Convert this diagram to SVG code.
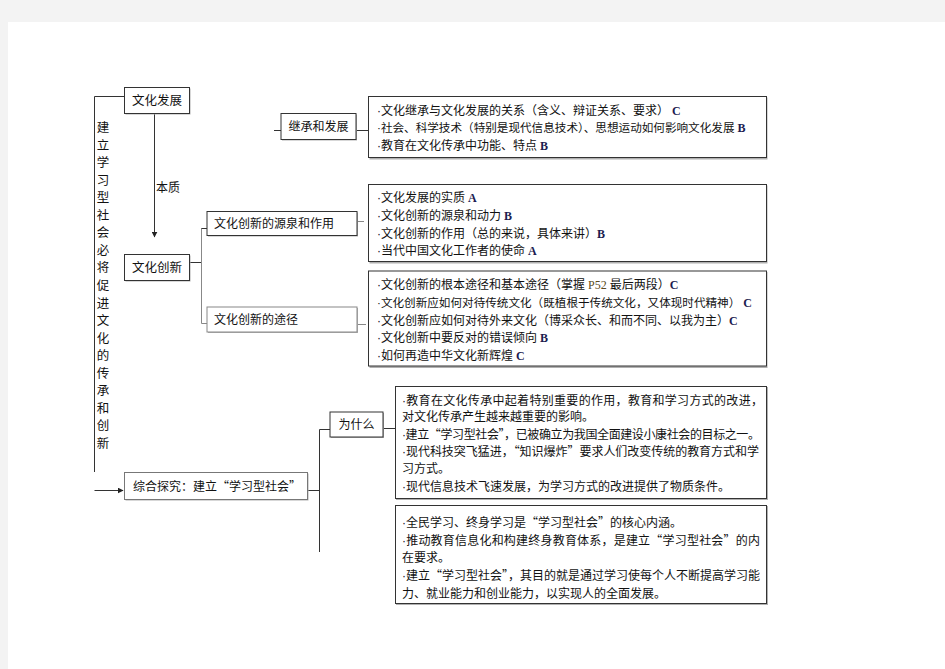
<svg xmlns="http://www.w3.org/2000/svg" width="945" height="669" viewBox="0 0 945 669">
<defs>
<style>
.t{font-family:"Noto Sans CJK SC","Noto Sans",sans-serif;font-size:12px;fill:#111}
.s{font-size:11.6px}
.n{font-family:"Noto Sans CJK SC","Noto Sans",sans-serif;font-size:12.5px;fill:#111}
.d{font-family:"Liberation Sans",sans-serif}
.g{font-family:"Liberation Serif",serif;font-weight:bold;font-size:12px;fill:#1c1c50}
.p{font-family:"Liberation Serif",serif;font-size:12px;fill:#5a4a20}
.box{fill:#fff;stroke:#333;stroke-width:1}
.sh{fill:#b0b0b0}
.ln{stroke:#333;stroke-width:1;fill:none}
.lg{stroke:#888;stroke-width:1;fill:none}
</style>
<marker id="ah" viewBox="0 0 10 10" refX="9" refY="5" markerWidth="6" markerHeight="6" orient="auto"><path d="M0,0 L10,5 L0,10 z" fill="#222"/></marker>
</defs>
<rect x="0" y="0" width="945" height="669" fill="#f3f3f3"/>
<rect x="8" y="22" width="937" height="647" fill="#fff"/>

<g id="connectors">
<polyline class="ln" points="124,96.5 94.5,96.5 94.5,472"/>
<line class="ln" x1="94.5" y1="490.5" x2="123" y2="490.5" marker-end="url(#ah)"/>
<line class="ln" x1="154.5" y1="114" x2="154.5" y2="237" marker-end="url(#ah)"/>
<line class="ln" x1="274" y1="130.5" x2="281" y2="130.5"/>
<line class="ln" x1="356" y1="130.5" x2="368" y2="130.5"/>
<line class="ln" x1="189" y1="262.5" x2="201.5" y2="262.5"/>
<polyline class="lg" points="207,228.5 201.5,228.5 201.5,323.5 207,323.5"/>
<line class="ln" x1="201.5" y1="228.5" x2="207" y2="228.5"/>
<line class="lg" x1="357" y1="221.5" x2="364" y2="221.5"/>
<line class="lg" x1="357" y1="324.5" x2="366" y2="324.5"/>
<line class="ln" x1="307" y1="490.5" x2="319.5" y2="490.5"/>
<line class="ln" x1="319.5" y1="429.5" x2="319.5" y2="552"/>
<line class="ln" x1="319.5" y1="429.5" x2="330" y2="429.5"/>
<line class="ln" x1="383" y1="428.5" x2="395" y2="428.5"/>
</g>

<g id="side-text">
<text class="n" x="103" text-anchor="middle">
<tspan x="103" y="132">建</tspan><tspan x="103" y="149.5">立</tspan><tspan x="103" y="167">学</tspan><tspan x="103" y="184.6">习</tspan><tspan x="103" y="202.2">型</tspan><tspan x="103" y="219.7">社</tspan><tspan x="103" y="237.3">会</tspan><tspan x="103" y="254.8">必</tspan><tspan x="103" y="272.4">将</tspan><tspan x="103" y="290">促</tspan><tspan x="103" y="307.5">进</tspan><tspan x="103" y="325">文</tspan><tspan x="103" y="342.6">化</tspan><tspan x="103" y="360.2">的</tspan><tspan x="103" y="377.7">传</tspan><tspan x="103" y="395.3">承</tspan><tspan x="103" y="412.8">和</tspan><tspan x="103" y="430.4">创</tspan><tspan x="103" y="448">新</tspan>
</text>
<text class="t" x="156" y="192">本质</text>
</g>

<g id="n-wenhuafazhan">
<rect class="sh" x="125.5" y="88.5" width="65" height="26"/>
<rect class="box" x="124.5" y="87.5" width="65" height="26"/>
<text class="n" x="157" y="105" text-anchor="middle">文化发展</text>
</g>

<g id="n-wenhuachuangxin">
<rect class="sh" x="125.5" y="255.5" width="65" height="26"/>
<rect class="box" x="124.5" y="254.5" width="65" height="26"/>
<text class="n" x="157" y="272" text-anchor="middle">文化创新</text>
</g>

<g id="n-jicheng">
<rect class="sh" x="282" y="114.5" width="75" height="26"/>
<rect class="box" x="281" y="113.5" width="75" height="26"/>
<text class="t" x="318.5" y="131" text-anchor="middle">继承和发展</text>
</g>

<g id="n-yuanquan">
<rect class="sh" x="208" y="212.5" width="150" height="24"/>
<rect class="box" x="207" y="211.5" width="150" height="24"/>
<text class="t" x="214" y="228">文化创新的源泉和作用</text>
</g>

<g id="n-tujing">
<rect class="sh" x="208" y="308" width="150" height="25"/>
<rect class="box" x="207" y="307" width="150" height="25" style="stroke:#888"/>
<text class="t" x="214" y="324">文化创新的途径</text>
</g>

<g id="n-zonghe">
<rect class="sh" x="125.5" y="473.5" width="183" height="27"/>
<rect class="box" x="124.5" y="472.5" width="183" height="27" style="stroke:#777"/>
<text class="t" x="133" y="491">综合探究：建立“学习型社会”</text>
</g>

<g id="n-weishenme">
<rect class="sh" x="331" y="413" width="53" height="25"/>
<rect class="box" x="330" y="412" width="53" height="25"/>
<text class="t" x="356.5" y="429" text-anchor="middle">为什么</text>
</g>

<g id="d-jicheng">
<rect class="sh" x="369.5" y="97.5" width="398" height="62"/>
<rect class="box" x="368.5" y="96.5" width="398" height="61"/>
<text class="t" x="377" y="114.5"><tspan class="d">·</tspan>文化继承与文化发展的关系（含义、辩证关系、要求）<tspan class="g"> C</tspan></text>
<text class="t s" x="377" y="131.5"><tspan class="d">·</tspan>社会、科学技术（特别是现代信息技术）、思想运动如何影响文化发展<tspan class="g"> B</tspan></text>
<text class="t" x="377" y="149.5"><tspan class="d">·</tspan>教育在文化传承中功能、特点<tspan class="g"> B</tspan></text>
</g>

<g id="d-yuanquan">
<rect class="sh" x="369.5" y="185.5" width="398" height="78"/>
<rect class="box" x="368.5" y="184.5" width="398" height="77"/>
<text class="t" x="377" y="201.5"><tspan class="d">·</tspan>文化发展的实质<tspan class="g"> A</tspan></text>
<text class="t" x="377" y="219.5"><tspan class="d">·</tspan>文化创新的源泉和动力<tspan class="g"> B</tspan></text>
<text class="t" x="377" y="237.5"><tspan class="d">·</tspan>文化创新的作用（总的来说，具体来讲）<tspan class="g">B</tspan></text>
<text class="t" x="377" y="254.5"><tspan class="d">·</tspan>当代中国文化工作者的使命<tspan class="g"> A</tspan></text>
</g>

<g id="d-tujing">
<rect class="sh" x="369.5" y="272" width="398" height="96"/>
<rect class="box" x="368.5" y="271" width="398" height="95"/>
<text class="t" x="377" y="288.5"><tspan class="d">·</tspan>文化创新的根本途径和基本途径（掌握<tspan class="p"> P52 </tspan>最后两段）<tspan class="g">C</tspan></text>
<text class="t s" x="377" y="306.5"><tspan class="d">·</tspan>文化创新应如何对待传统文化（既植根于传统文化，又体现时代精神）<tspan class="g"> C</tspan></text>
<text class="t" x="377" y="324.5"><tspan class="d">·</tspan>文化创新应如何对待外来文化（博采众长、和而不同、以我为主）<tspan class="g">C</tspan></text>
<text class="t" x="377" y="341.5"><tspan class="d">·</tspan>文化创新中要反对的错误倾向<tspan class="g"> B</tspan></text>
<text class="t" x="377" y="359.5"><tspan class="d">·</tspan>如何再造中华文化新辉煌<tspan class="g"> C</tspan></text>
</g>

<g id="d-weishenme">
<rect class="sh" x="396" y="387" width="372" height="113"/>
<rect class="box" x="395.5" y="386.5" width="371" height="112"/>
<text class="t" x="402" y="404.5" textLength="361" lengthAdjust="spacing"><tspan class="d">·</tspan>教育在文化传承中起着特别重要的作用，教育和学习方式的改进，</text>
<text class="t" x="402" y="421">对文化传承产生越来越重要的影响。</text>
<text class="t" x="402" y="438.5" textLength="358" lengthAdjust="spacing"><tspan class="d">·</tspan>建立“学习型社会”，已被确立为我国全面建设小康社会的目标之一。</text>
<text class="t" x="402" y="455.5" textLength="357" lengthAdjust="spacing"><tspan class="d">·</tspan>现代科技突飞猛进，“知识爆炸”要求人们改变传统的教育方式和学</text>
<text class="t" x="402" y="472.5">习方式。</text>
<text class="t" x="402" y="490.5"><tspan class="d">·</tspan>现代信息技术飞速发展，为学习方式的改进提供了物质条件。</text>
</g>

<g id="d-hanyi">
<rect class="sh" x="396" y="506" width="372" height="99"/>
<rect class="box" x="395.5" y="505.5" width="371" height="98"/>
<text class="t" x="402" y="526.5"><tspan class="d">·</tspan>全民学习、终身学习是“学习型社会”的核心内涵。</text>
<text class="t" x="402" y="544.5" textLength="358" lengthAdjust="spacing"><tspan class="d">·</tspan>推动教育信息化和构建终身教育体系，是建立“学习型社会”的内</text>
<text class="t" x="402" y="561.5">在要求。</text>
<text class="t" x="402" y="579.5" textLength="358" lengthAdjust="spacing"><tspan class="d">·</tspan>建立“学习型社会”，其目的就是通过学习使每个人不断提高学习能</text>
<text class="t" x="402" y="597.5">力、就业能力和创业能力，以实现人的全面发展。</text>
</g>
</svg>
